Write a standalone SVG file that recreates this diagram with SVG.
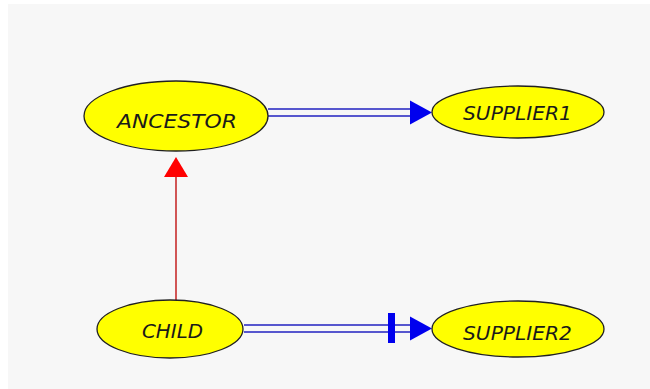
<svg xmlns="http://www.w3.org/2000/svg" width="650" height="389" viewBox="0 0 650 389">
<style>
.node ellipse{fill:#ffff00;stroke:#202020;stroke-width:1.3}
.node text{font-family:"DejaVu Sans","Liberation Sans",sans-serif;font-style:italic;font-size:19px;fill:#1a1a1a;text-anchor:middle}
.dbl{stroke:#2020c0;stroke-width:1.6;fill:none}
</style>
<defs>
<marker id="blueArrow" markerWidth="22" markerHeight="24" refX="22" refY="12" orient="auto" markerUnits="userSpaceOnUse">
<path d="M0,0 L22,12 L0,24 Z" fill="#0000ee"/>
</marker>
<marker id="redArrow" markerWidth="24" markerHeight="20" refX="22" refY="12" orient="auto" markerUnits="userSpaceOnUse">
<path d="M0,0 L20,12 L0,24 Z" fill="#ff0000"/>
</marker>
</defs>
<rect x="0" y="0" width="650" height="389" fill="#ffffff"/>
<rect x="8" y="4" width="642" height="385" fill="#f7f7f7"/>
<g id="connectors">
<line x1="176" y1="300" x2="176" y2="176" stroke="#c01010" stroke-width="1.4"/>
<path d="M176,157 L164,177 L188,177 Z" fill="#ff0000"/>
<line class="dbl" x1="268" y1="109" x2="412" y2="109"/>
<line class="dbl" x1="268" y1="116" x2="412" y2="116"/>
<path d="M410,100.5 L432,112.5 L410,124.5 Z" fill="#0000ee"/>
<line class="dbl" x1="244" y1="325" x2="412" y2="325"/>
<line class="dbl" x1="244" y1="332" x2="412" y2="332"/>
<rect x="388" y="313" width="7" height="30" fill="#0000ee"/>
<path d="M410,316.5 L432,328.5 L410,340.5 Z" fill="#0000ee"/>
</g>
<g id="ancestor" class="node">
<ellipse cx="176" cy="116" rx="92" ry="35"/>
<text x="177" y="128" textLength="120" lengthAdjust="spacingAndGlyphs">ANCESTOR</text>
</g>
<g id="supplier1" class="node">
<ellipse cx="518" cy="112" rx="86" ry="26"/>
<text x="517.5" y="120" textLength="109" lengthAdjust="spacingAndGlyphs">SUPPLIER1</text>
</g>
<g id="child" class="node">
<ellipse cx="170" cy="329" rx="73" ry="29"/>
<text x="172.5" y="338" textLength="61" lengthAdjust="spacingAndGlyphs">CHILD</text>
</g>
<g id="supplier2" class="node">
<ellipse cx="518" cy="329" rx="86" ry="28"/>
<text x="517.5" y="340" textLength="109" lengthAdjust="spacingAndGlyphs">SUPPLIER2</text>
</g>
</svg>
